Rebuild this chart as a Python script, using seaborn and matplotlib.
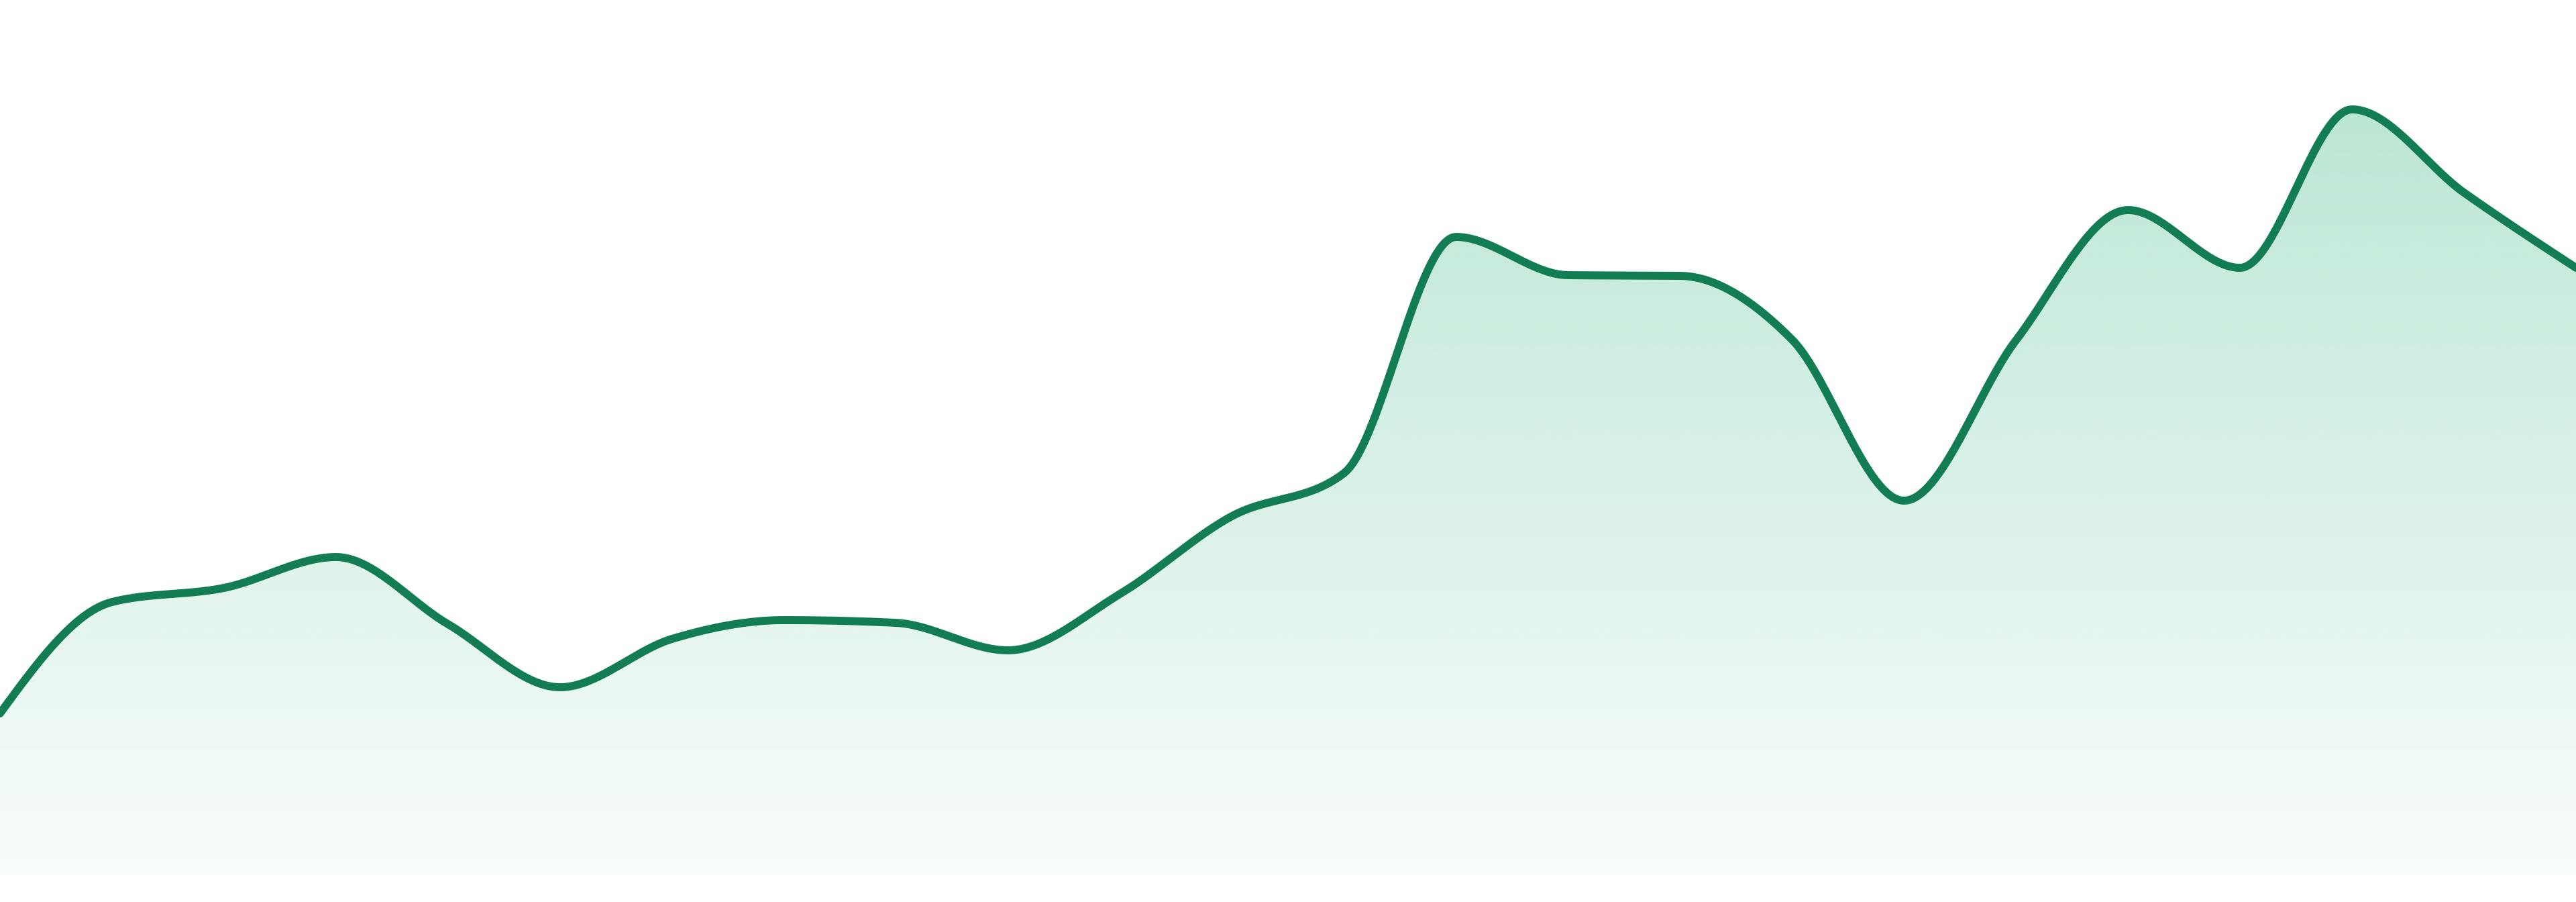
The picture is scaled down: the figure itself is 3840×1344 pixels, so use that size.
import numpy as np
import pandas as pd
import matplotlib
matplotlib.use("Agg")
import matplotlib.pyplot as plt
from matplotlib.colors import to_rgb
import seaborn as sns

# data: 24 equally spaced samples
puntos = list(range(24))
valores = [24.1, 40.7, 42.8, 47.4, 37.4, 28.0, 35.2, 38.0, 37.6, 33.5, 41.9, 53.5,
           59.9, 95.1, 89.4, 89.3, 79.8, 55.8, 79.7, 99.1, 90.5, 114.1, 101.7, 90.5]

colorLinea = "#127c53"
colorRelleno = "#30b47c"


def monotonaX(x, y, n=40):
    # same idea as d3.curveMonotoneX (cubic hermite, monotone tangents)
    x = np.asarray(x, float)
    y = np.asarray(y, float)
    h = np.diff(x)
    s = np.diff(y) / h
    t = np.zeros_like(y)
    for i in range(1, len(y) - 1):
        p = (s[i - 1] * h[i] + s[i] * h[i - 1]) / (h[i - 1] + h[i])
        t[i] = (np.sign(s[i - 1]) + np.sign(s[i])) * min(abs(s[i - 1]), abs(s[i]), 0.5 * abs(p))
    t[0] = (3 * s[0] - t[1]) / 2
    t[-1] = (3 * s[-1] - t[-2]) / 2
    xs, ys = [], []
    for i in range(len(x) - 1):
        u = np.linspace(0, 1, n, endpoint=False)
        h00 = 2 * u**3 - 3 * u**2 + 1
        h10 = u**3 - 2 * u**2 + u
        h01 = -2 * u**3 + 3 * u**2
        h11 = u**3 - u**2
        xs.append(x[i] + u * h[i])
        ys.append(h00 * y[i] + h10 * h[i] * t[i] + h01 * y[i + 1] + h11 * h[i] * t[i + 1])
    xs.append([x[-1]])
    ys.append([y[-1]])
    return np.concatenate(xs), np.concatenate(ys)


xs, ys = monotonaX(puntos, valores)
df = pd.DataFrame({"x": xs, "y": ys})

sns.set_style("white")
fig = plt.figure(figsize=(38.4, 13.44), dpi=100)
ax = fig.add_axes([0, 40 / 1344, 1, 1304 / 1344])
ymax = 130.4

# gradient under the curve
relleno = ax.fill_between(df["x"], df["y"], 0, facecolor="none", edgecolor="none")
alto = 600
v = np.linspace(ymax, 0, alto)
alfa = np.clip(0.03 + 0.30 * v / 115.4, 0, 1)
grad = np.ones((alto, 2, 4))
grad[:, :, :3] = to_rgb(colorRelleno)
grad[:, :, 3] = alfa[:, None]
img = ax.imshow(grad, extent=[0, 23, 0, ymax], aspect="auto", origin="upper",
                interpolation="bilinear", zorder=1)
img.set_clip_path(relleno.get_paths()[0], transform=ax.transData)

sns.lineplot(data=df, x="x", y="y", color=colorLinea, linewidth=8.6, ax=ax,
             zorder=3, sort=False)

ax.set_xlim(0, 23)
ax.set_ylim(0, ymax)
ax.set_axis_off()

fig.savefig("out.png", dpi=100, facecolor="white")
